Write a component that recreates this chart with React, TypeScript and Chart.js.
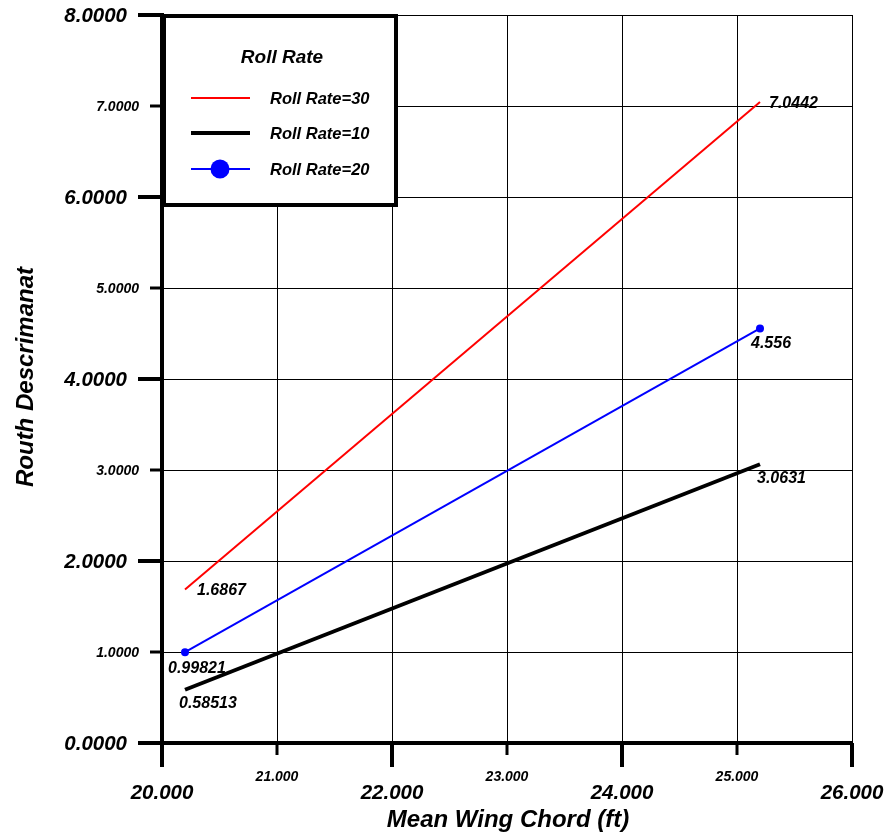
import React, { useEffect, useRef } from "react";
import { Chart, registerables } from "chart.js";

Chart.register(...registerables);

// ---- data ----
const chordValues = [20.2, 25.2];
const rollRate30 = [1.6867, 7.0442];
const rollRate10 = [0.58513, 3.0631];
const rollRate20 = [0.99821, 4.556];
const seriesLabels = ["Roll Rate=30", "Roll Rate=10", "Roll Rate=20"];
const legendTitle = "Roll Rate";
const xTickLabels = ["20.000", "21.000", "22.000", "23.000", "24.000", "25.000", "26.000"];
const yTickLabels = ["0.0000", "1.0000", "2.0000", "3.0000", "4.0000", "5.0000", "6.0000", "7.0000", "8.0000"];
const xTitle = "Mean Wing Chord (ft)";
const yTitle = "Routh Descrimanat";

// ---- style ----
const FONT = "'Liberation Sans', Arial, sans-serif";
const seriesColors = ["#ff0000", "#000000", "#0000ff"];
const seriesWidths = [2, 4, 2];
// label offsets [start, end] as [dx, dy] from each end point (left, baseline)
const labelOffsets = [
  [[12, 5], [9, 6]],
  [[-6, 18], [-3, 19]],
  [[-17, 21], [-9, 20]],
];

const overlayPlugin = {
  id: "overlay",
  afterDraw(chart: any) {
    const ctx = chart.ctx;
    const xs = chart.scales.x;
    const ys = chart.scales.y;
    const area = chart.chartArea;
    ctx.save();
    ctx.fillStyle = "#000";
    ctx.strokeStyle = "#000";

    // x ticks + labels
    xs.ticks.forEach((t: any, i: number) => {
      const px = xs.getPixelForValue(t.value);
      const major = i % 2 === 0;
      ctx.lineWidth = major ? 4 : 3;
      ctx.beginPath();
      ctx.moveTo(px, area.bottom);
      ctx.lineTo(px, area.bottom + (major ? 24 : 12));
      ctx.stroke();
      ctx.font = `italic bold ${major ? 20.5 : 14}px ${FONT}`;
      ctx.textAlign = "center";
      ctx.textBaseline = "alphabetic";
      ctx.fillText(xTickLabels[i], px, area.bottom + (major ? 56 : 38));
    });

    // y ticks + labels
    ys.ticks.forEach((t: any, i: number) => {
      const py = ys.getPixelForValue(t.value);
      const major = i % 2 === 0;
      ctx.lineWidth = major ? 4 : 3;
      ctx.beginPath();
      ctx.moveTo(area.left, py);
      ctx.lineTo(area.left - (major ? 24 : 12), py);
      ctx.stroke();
      ctx.font = `italic bold ${major ? 20.5 : 14}px ${FONT}`;
      ctx.textAlign = "right";
      ctx.textBaseline = "alphabetic";
      ctx.fillText(yTickLabels[i], area.left - (major ? 35 : 23), py + (major ? 7 : 5));
    });

    // axis titles
    ctx.font = `italic bold 24px ${FONT}`;
    ctx.textAlign = "center";
    ctx.textBaseline = "alphabetic";
    ctx.fillText(xTitle, (area.left + area.right) / 2 + 1, area.bottom + 84);
    ctx.save();
    ctx.translate(area.left - 129, (area.top + area.bottom) / 2 - 2);
    ctx.rotate(-Math.PI / 2);
    ctx.fillText(yTitle, 0, 0);
    ctx.restore();

    // data labels
    ctx.font = `italic bold 16px ${FONT}`;
    ctx.textAlign = "left";
    chart.data.datasets.forEach((ds: any, di: number) => {
      ds.data.forEach((p: any, pi: number) => {
        const px = xs.getPixelForValue(p.x);
        const py = ys.getPixelForValue(p.y);
        const [dx, dy] = labelOffsets[di][pi];
        ctx.fillText(String(p.y), px + dx, py + dy);
      });
    });

    // legend box
    const lx = area.left + 2;
    const ly = area.top + 1;
    const lw = 232;
    const lh = 189;
    ctx.fillStyle = "#fff";
    ctx.fillRect(lx, ly, lw, lh);
    ctx.lineWidth = 4;
    ctx.strokeStyle = "#000";
    ctx.strokeRect(lx, ly, lw, lh);
    ctx.fillStyle = "#000";
    ctx.font = `italic bold 19px ${FONT}`;
    ctx.textAlign = "center";
    ctx.fillText(legendTitle, lx + 118, ly + 47);
    const rowY = [82, 117, 153];
    chart.data.datasets.forEach((ds: any, di: number) => {
      const y = ly + rowY[di];
      ctx.strokeStyle = ds.borderColor;
      ctx.lineWidth = ds.borderWidth;
      ctx.beginPath();
      ctx.moveTo(lx + 27, y);
      ctx.lineTo(lx + 86, y);
      ctx.stroke();
      if (ds.pointRadius > 0) {
        ctx.fillStyle = ds.pointBackgroundColor;
        ctx.beginPath();
        ctx.arc(lx + 56, y, 9.5, 0, Math.PI * 2);
        ctx.fill();
      }
      ctx.fillStyle = "#000";
      ctx.font = `italic bold 16.5px ${FONT}`;
      ctx.textAlign = "left";
      ctx.fillText(ds.label, lx + 106, y + 6);
    });
    ctx.restore();
  },
};

export default function App() {
  const ref = useRef<HTMLCanvasElement>(null);
  useEffect(() => {
    if (!ref.current) return;
    const mk = (vals: number[]) => chordValues.map((x, i) => ({ x, y: vals[i] }));
    const all = [rollRate30, rollRate10, rollRate20];
    const chart = new Chart(ref.current, {
      type: "line",
      data: {
        datasets: all.map((vals, i) => ({
          label: seriesLabels[i],
          data: mk(vals),
          borderColor: seriesColors[i],
          backgroundColor: seriesColors[i],
          borderWidth: seriesWidths[i],
          pointRadius: i === 2 ? 4 : 0,
          pointBackgroundColor: seriesColors[i],
          pointBorderWidth: 0,
          fill: false,
          tension: 0,
        })),
      },
      options: {
        responsive: false,
        animation: false,
        devicePixelRatio: 1,
        layout: { padding: { left: 162, top: 15, right: 36, bottom: 97 } },
        plugins: { legend: { display: false }, tooltip: { enabled: false } },
        scales: {
          x: {
            type: "linear",
            min: 20,
            max: 26,
            ticks: { stepSize: 1, display: false },
            grid: { color: "#000", lineWidth: 1, drawTicks: false },
            border: { display: true, color: "#000", width: 4 },
          },
          y: {
            type: "linear",
            min: 0,
            max: 8,
            ticks: { stepSize: 1, display: false },
            grid: { color: "#000", lineWidth: 1, drawTicks: false },
            border: { display: true, color: "#000", width: 4 },
          },
        },
      },
      plugins: [overlayPlugin],
    });
    return () => chart.destroy();
  }, []);
  return (
    <div style={{ position: "absolute", left: 0, top: 0, width: 888, height: 840, overflow: "hidden" }}>
      <canvas ref={ref} width={888} height={840} style={{ display: "block" }} />
    </div>
  );
}
